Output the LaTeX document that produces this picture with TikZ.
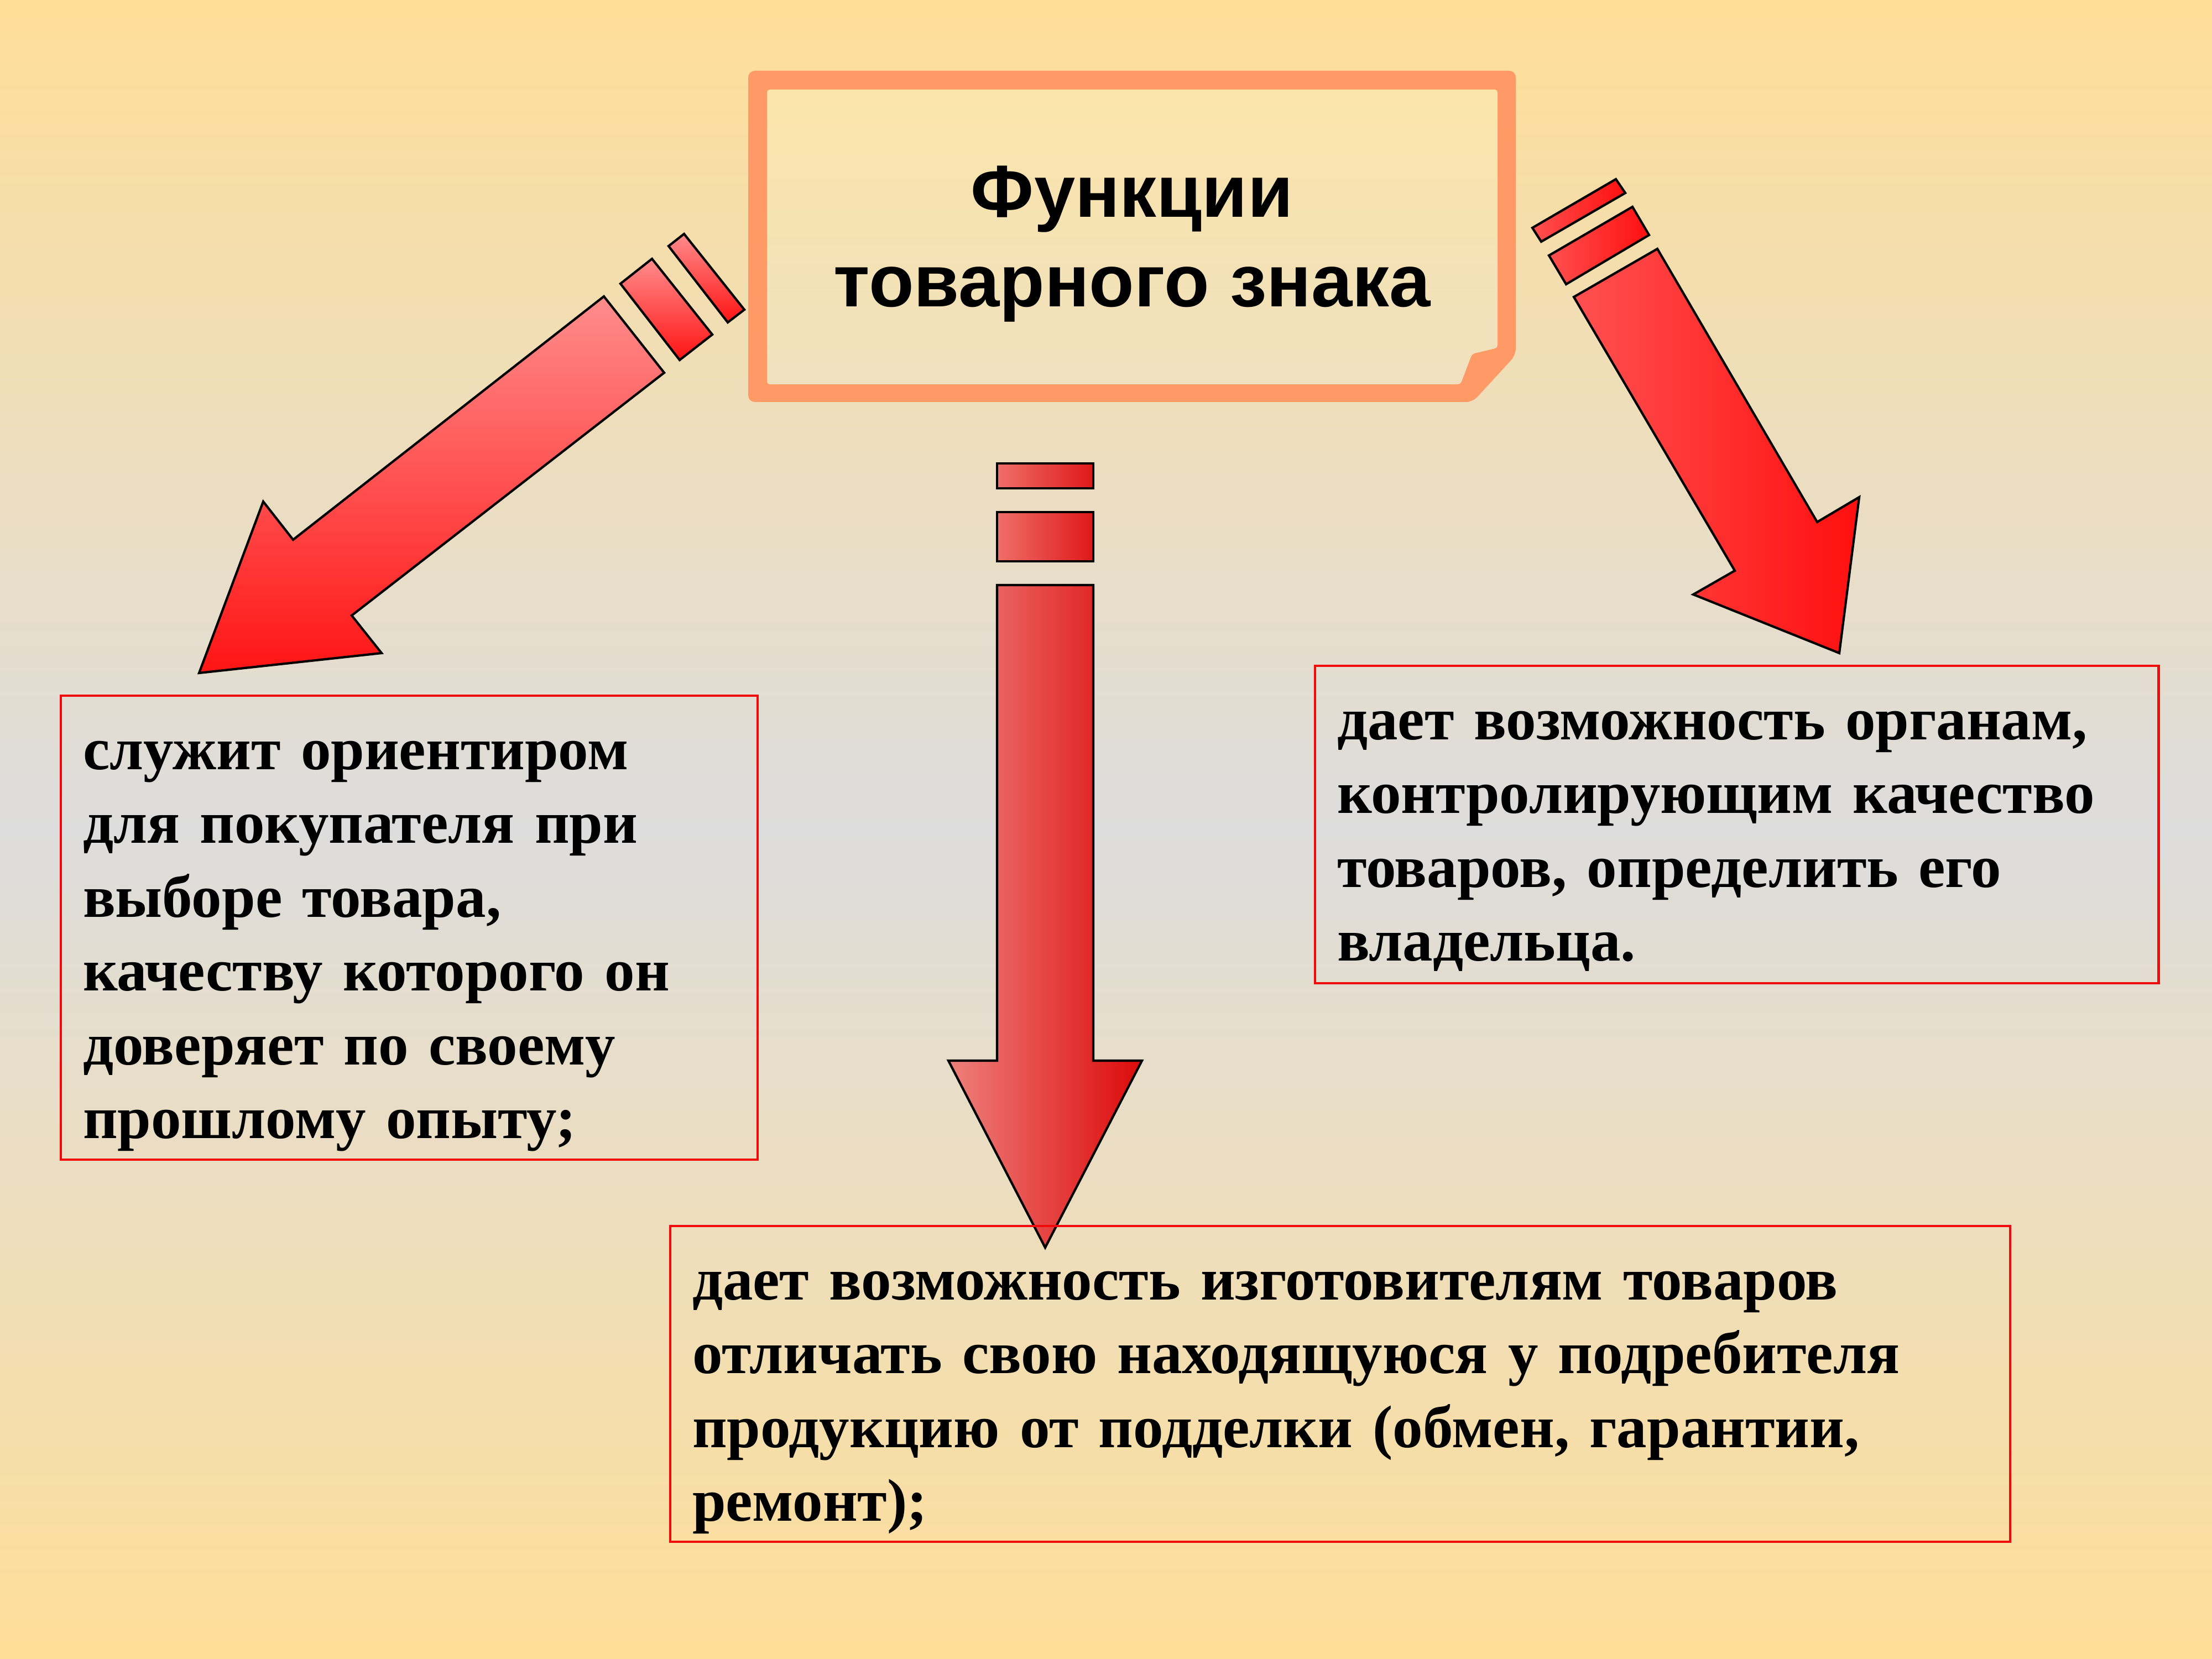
\documentclass[tikz,border=0pt]{standalone}
\usepackage{fontspec}
\setmainfont{Liberation Serif}
\newfontfamily\titlefont{Liberation Sans}

\definecolor{bgyellow}{RGB}{255,222,152}
\definecolor{bggrey}{RGB}{221,221,221}
\definecolor{boxorange}{RGB}{255,153,102}
\definecolor{boxred}{RGB}{240,10,10}

\tikzset{
    outline/.style={draw=black, line width=1.2pt, line join=miter},
    infobox/.style={draw=boxred, line width=1.4pt, align=left, inner xsep=0.4cm, inner ysep=0pt,
        text height=1.33cm, font=\bfseries\fontsize{31}{38}\selectfont}
}

\begin{document}
\begin{tikzpicture}
    \useasboundingbox (0,0) rectangle (40,-30);
    \shade[top color=bgyellow, bottom color=bgyellow, middle color=bggrey] (0,0) rectangle (40,-30);

    \fill[boxorange, rounded corners=0.12cm] (13.53,-1.28) -- (27.41,-1.28) -- (27.41,-6.42) -- (26.63,-7.27) -- (13.53,-7.27) -- cycle;
    \shade[top color={rgb,255:red,251;green,229;blue,170}, bottom color={rgb,255:red,240;green,224;blue,190}, rounded corners=0.05cm]
        (13.87,-1.62) -- (27.08,-1.62) -- (27.08,-6.29) -- (26.62,-6.40) -- (26.41,-6.95) -- (13.87,-6.95) -- cycle;
    \node[align=center, font=\titlefont\bfseries\fontsize{38}{46}\selectfont] (title) at (20.47,-4.41) {Функции\\товарного знака};

    \draw[outline, top color={rgb,255:red,255;green,140;blue,140}, bottom color={rgb,255:red,255;green,20;blue,20}]
        (12.09,-4.45) -- (12.37,-4.23) -- (13.46,-5.60) -- (13.16,-5.83) -- cycle;
    \draw[outline, top color={rgb,255:red,255;green,140;blue,140}, bottom color={rgb,255:red,255;green,20;blue,20}]
        (11.22,-5.13) -- (11.79,-4.68) -- (12.88,-6.05) -- (12.29,-6.51) -- cycle;
    \draw[outline, top color={rgb,255:red,255;green,140;blue,140}, bottom color={rgb,255:red,255;green,20;blue,20}]
        (10.92,-5.36) -- (12.01,-6.74) -- (6.36,-11.13) -- (6.90,-11.81) -- (3.60,-12.17) -- (4.76,-9.07) -- (5.30,-9.76) -- cycle;

    \draw[outline, left color={rgb,255:red,240;green,110;blue,105}, right color={rgb,255:red,222;green,25;blue,25}]
        (18.03,-8.38) rectangle (19.77,-8.83);
    \draw[outline, left color={rgb,255:red,240;green,110;blue,105}, right color={rgb,255:red,222;green,25;blue,25}]
        (18.03,-9.26) rectangle (19.77,-10.15);
    \draw[outline, left color={rgb,255:red,238;green,128;blue,124}, right color={rgb,255:red,220;green,10;blue,10}]
        (18.03,-10.58) -- (19.77,-10.58) -- (19.77,-19.18) -- (20.65,-19.18) -- (18.90,-22.56) -- (17.15,-19.18) -- (18.03,-19.18) -- cycle;

    \draw[outline, left color={rgb,255:red,255;green,80;blue,80}, right color={rgb,255:red,255;green,15;blue,15}]
        (27.71,-4.12) -- (29.22,-3.24) -- (29.39,-3.49) -- (27.87,-4.37) -- cycle;
    \draw[outline, left color={rgb,255:red,255;green,80;blue,80}, right color={rgb,255:red,255;green,15;blue,15}]
        (28.01,-4.62) -- (29.52,-3.74) -- (29.82,-4.25) -- (28.32,-5.14) -- cycle;
    \draw[outline, left color={rgb,255:red,255;green,80;blue,80}, right color={rgb,255:red,255;green,15;blue,15}]
        (28.46,-5.37) -- (29.97,-4.50) -- (32.86,-9.44) -- (33.62,-8.99) -- (33.26,-11.81) -- (30.62,-10.75) -- (31.37,-10.32) -- cycle;

    \node[infobox, text depth=7.06cm, text width=11.8cm] (guide) at (7.40,-16.775)
        {служит ориентиром\\для покупателя при\\выборе товара,\\качеству которого он\\доверяет по своему\\прошлому опыту;};
    \node[infobox, text depth=4.41cm, text width=14.45cm] (owner) at (31.405,-14.91)
        {дает возможность органам,\\контролирующим качество\\товаров, определить его\\владельца.};
    \node[infobox, text depth=4.38cm, text width=23.43cm] (maker) at (24.235,-25.025)
        {дает возможность изготовителям товаров\\отличать свою находящуюся у подребителя\\продукцию от подделки (обмен, гарантии,\\ремонт);};
\end{tikzpicture}
\end{document}
